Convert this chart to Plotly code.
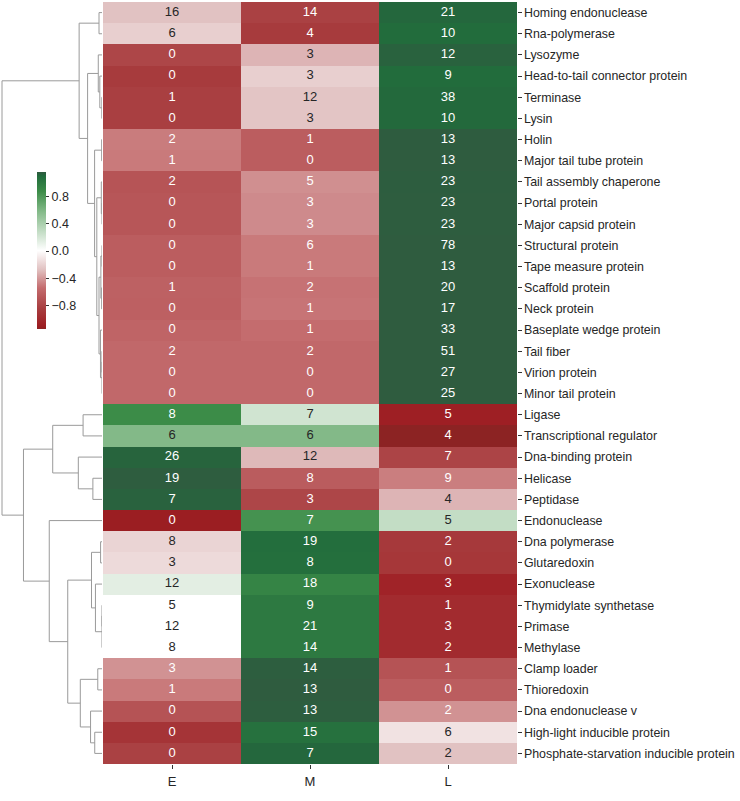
import numpy as np
import plotly.graph_objects as go

# ---------------- data ----------------
genes = ["Homing endonuclease", "Rna-polymerase", "Lysozyme", "Head-to-tail connector protein",
         "Terminase", "Lysin", "Holin", "Major tail tube protein", "Tail assembly chaperone",
         "Portal protein", "Major capsid protein", "Structural protein", "Tape measure protein",
         "Scaffold protein", "Neck protein", "Baseplate wedge protein", "Tail fiber",
         "Virion protein", "Minor tail protein", "Ligase", "Transcriptional regulator",
         "Dna-binding protein", "Helicase", "Peptidase", "Endonuclease", "Dna polymerase",
         "Glutaredoxin", "Exonuclease", "Thymidylate synthetase", "Primase", "Methylase",
         "Clamp loader", "Thioredoxin", "Dna endonuclease v", "High-light inducible protein",
         "Phosphate-starvation inducible protein"]
columns = ["E", "M", "L"]
E_counts = [16, 6, 0, 0, 1, 0, 2, 1, 2, 0, 0, 0, 0, 1, 0, 0, 2, 0, 0,
            8, 6, 26, 19, 7, 0, 8, 3, 12, 5, 12, 8, 3, 1, 0, 0, 0]
M_counts = [14, 4, 3, 3, 12, 3, 1, 0, 5, 3, 3, 6, 1, 2, 1, 1, 2, 0, 0,
            7, 6, 12, 8, 3, 7, 19, 8, 18, 9, 21, 14, 14, 13, 13, 15, 7]
L_counts = [21, 10, 12, 9, 38, 10, 13, 13, 23, 23, 23, 78, 13, 20, 17, 33, 51, 27, 25,
            5, 4, 7, 9, 4, 5, 2, 0, 3, 1, 3, 2, 1, 0, 2, 6, 2]
cbar_ticks = [-0.8, -0.4, 0.0, 0.4, 0.8]
cbar_ticktext = ["\u22120.8", "\u22120.4", "0.0", "0.4", "0.8"]

# ---------------- row z-score (as seaborn clustermap z_score=0) ----------------
counts = np.array([E_counts, M_counts, L_counts], dtype=float).T
z = (counts - counts.mean(axis=1, keepdims=True)) / counts.std(axis=1, ddof=1, keepdims=True)
zmax = float(np.abs(z).max())
zmin = -zmax
n = len(genes)

# ---------------- colormap (style) ----------------
stops_z = [-zmax, -1.13, -1.10, -0.85, -0.55, -0.28, 0.0, 0.2, 0.58, 0.87, 1.10, 1.125, zmax]
stops_rgb = [(140, 35, 35), (150, 30, 33), (158, 30, 35), (168, 62, 64), (196, 108, 110),
             (225, 193, 193), (255, 255, 255), (212, 230, 213), (130, 185, 135),
             (60, 140, 72), (33, 107, 60), (42, 96, 62), (47, 92, 63)]
colorscale = [[(sz - zmin) / (zmax - zmin), "rgb(%d,%d,%d)" % c] for sz, c in zip(stops_z, stops_rgb)]
colorscale[0][0] = 0.0
colorscale[-1][0] = 1.0


def color_of(v):
    t = (v - zmin) / (zmax - zmin)
    ts = [s[0] for s in colorscale]
    rgb = np.array(stops_rgb, dtype=float)
    return [float(np.interp(t, ts, rgb[:, k])) for k in range(3)]


def lum(rgb):
    c = np.array(rgb) / 255.0
    c = np.where(c <= 0.03928, c / 12.92, ((c + 0.055) / 1.055) ** 2.4)
    return 0.2126 * c[0] + 0.7152 * c[1] + 0.0722 * c[2]


# ---------------- average-linkage clustering (euclidean) ----------------
D = np.sqrt(((z[:, None, :] - z[None, :, :]) ** 2).sum(-1))
members = {i: [i] for i in range(n)}
pos = {i: float(i) for i in range(n)}
height = {i: 0.0 for i in range(n)}
active = list(range(n))
links = []
nid = n
while len(active) > 1:
    best = None
    for ai in range(len(active)):
        for bi in range(ai + 1, len(active)):
            a, b = active[ai], active[bi]
            d = D[np.ix_(members[a], members[b])].mean()
            if best is None or d < best[0] - 1e-12:
                best = (d, a, b)
    d, a, b = best
    members[nid] = members[a] + members[b]
    pos[nid] = (pos[a] + pos[b]) / 2.0
    height[nid] = d
    links.append((a, b, d))
    active.remove(a)
    active.remove(b)
    active.append(nid)
    nid += 1

dx, dy = [], []
for a, b, d in links:
    dx += [height[a], d, d, height[b], None]
    dy += [pos[a], pos[a], pos[b], pos[b], None]
maxh = max(height.values())

# ---------------- figure ----------------
W, H = 740, 801
hm_left, hm_right = 103 / W, 517 / W
hm_top, hm_bot = 1 - 2 / H, 1 - 764 / H
font_family = "Liberation Sans, Arial, sans-serif"
txt_col = "#262626"

fig = go.Figure()
fig.add_trace(go.Heatmap(
    z=z, x=list(range(3)), y=list(range(n)), zmin=zmin, zmax=zmax,
    colorscale=colorscale, xaxis="x", yaxis="y", hoverinfo="skip",
    colorbar=dict(x=36.5 / W, xanchor="left", y=1 - 251 / H, yanchor="middle",
                  lenmode="pixels", len=157, thickness=9, xpad=0, ypad=0,
                  outlinewidth=0, ticks="outside", ticklen=3.5, tickwidth=1,
                  tickcolor="#333", tickvals=cbar_ticks, ticktext=cbar_ticktext,
                  tickfont=dict(family=font_family, size=12.5, color=txt_col)),
))

tx, ty, tt, tc = [], [], [], []
for i in range(n):
    for j in range(3):
        tx.append(j)
        ty.append(i)
        tt.append(str(int(counts[i, j])))
        tc.append(txt_col if lum(color_of(z[i, j])) > 0.408 else "white")
fig.add_trace(go.Scatter(x=tx, y=ty, text=tt, mode="text", xaxis="x", yaxis="y",
                         textfont=dict(family=font_family, size=13, color=tc),
                         hoverinfo="skip", showlegend=False))

fig.add_trace(go.Scatter(x=dx, y=dy, mode="lines", xaxis="x2", yaxis="y2",
                         line=dict(color="#9a9a9a", width=1), hoverinfo="skip",
                         showlegend=False))

fig.update_layout(
    width=W, height=H, margin=dict(l=0, r=0, t=0, b=0),
    paper_bgcolor="white", plot_bgcolor="white", showlegend=False,
    font=dict(family=font_family, color=txt_col),
    xaxis=dict(domain=[hm_left, hm_right], range=[-0.5, 2.5], tickvals=[0, 1, 2],
               ticktext=columns, showgrid=False, zeroline=False, showline=False,
               ticks="outside", ticklen=3.5, tickcolor="#333", ticklabelstandoff=2,
               tickfont=dict(size=13, color=txt_col)),
    yaxis=dict(domain=[hm_bot, hm_top], range=[n - 0.5, -0.5], tickvals=list(range(n)),
               ticktext=genes, side="right", showgrid=False, zeroline=False,
               showline=False, ticks="outside", ticklen=3.5, tickcolor="#333",
               ticklabelstandoff=0, tickfont=dict(size=12.4, color=txt_col)),
    xaxis2=dict(domain=[0, 102 / W], range=[maxh * 1.02, 0], visible=False),
    yaxis2=dict(domain=[hm_bot, hm_top], range=[n - 0.5, -0.5], visible=False),
)

fig.write_html("out.html", config={"displayModeBar": False},
               post_script="document.body.style.margin='0px';")
